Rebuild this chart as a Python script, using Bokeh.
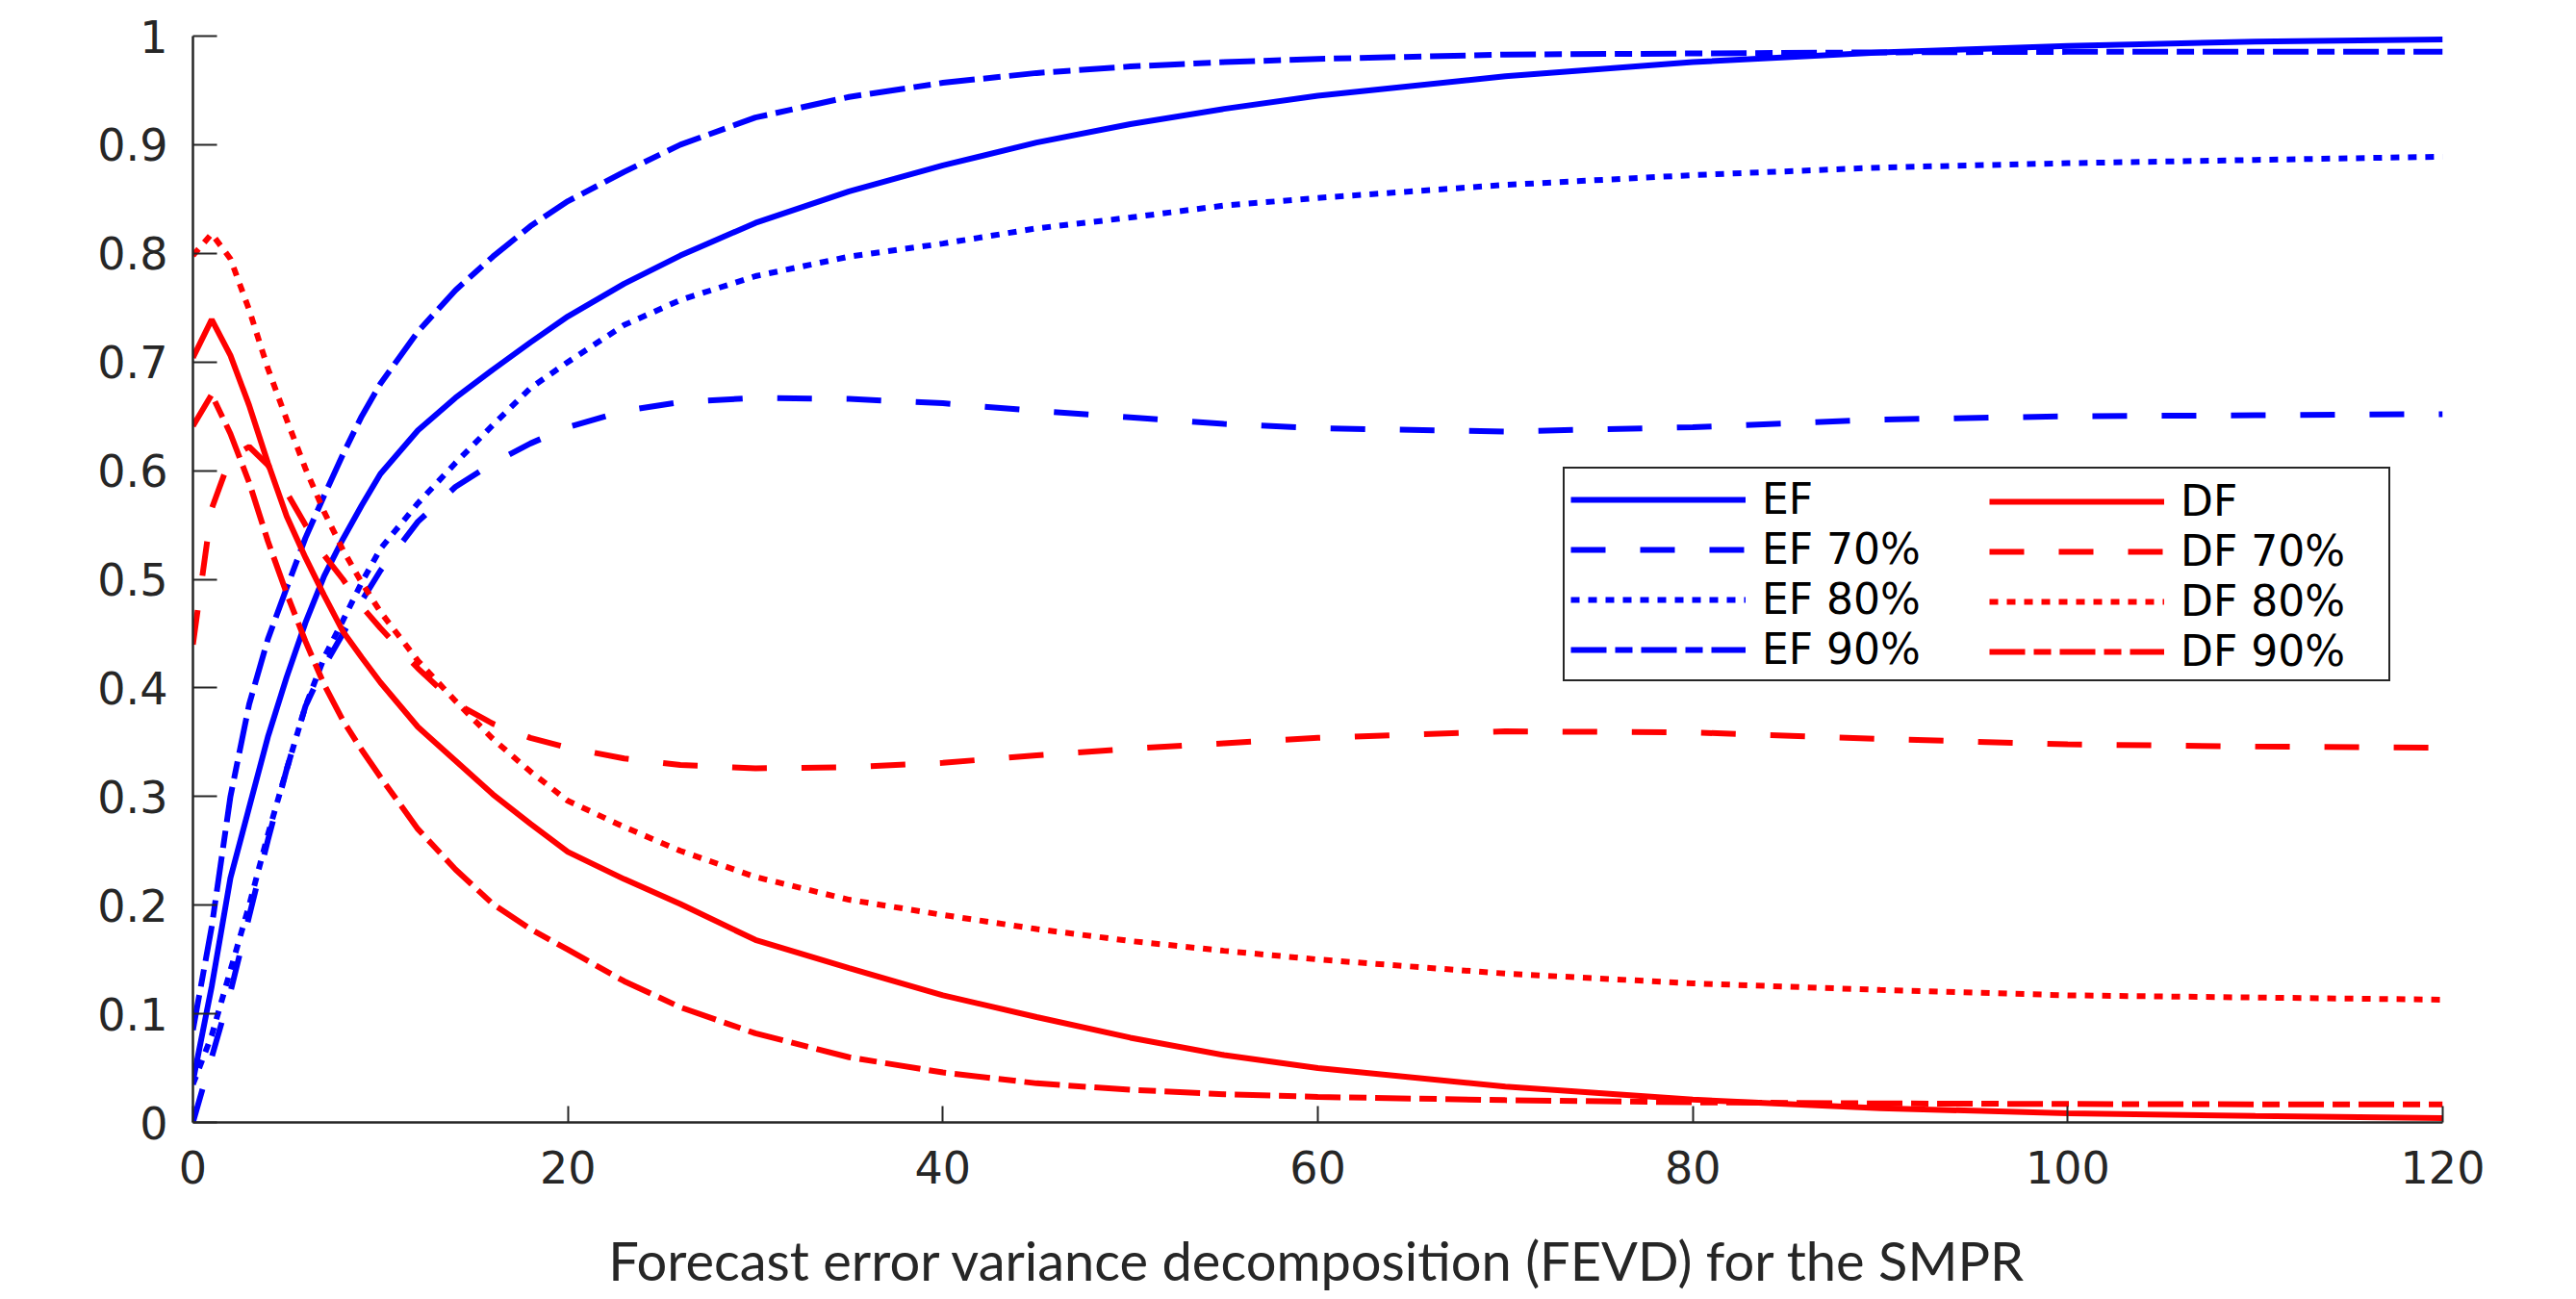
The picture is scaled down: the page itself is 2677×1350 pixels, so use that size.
from bokeh.plotting import figure
from bokeh.models import Legend, LegendItem, FixedTicker
from bokeh.embed import file_html
from bokeh.resources import INLINE

# horizon (x) values
horizon = [0, 1, 2, 3, 4, 5, 6, 7, 8, 9, 10, 12, 14, 16, 18, 20, 23, 26, 30, 35,
           40, 45, 50, 55, 60, 70, 80, 90, 100, 110, 120]

ef = [0.038, 0.125, 0.225, 0.290, 0.355, 0.410, 0.460, 0.503, 0.537, 0.568, 0.597,
      0.637, 0.667, 0.693, 0.718, 0.742, 0.772, 0.798, 0.828, 0.857, 0.881, 0.902,
      0.919, 0.933, 0.945, 0.963, 0.976, 0.985, 0.991, 0.995, 0.997]
ef70 = [0.000, 0.060, 0.120, 0.190, 0.260, 0.325, 0.383, 0.420, 0.450, 0.480, 0.508,
        0.553, 0.585, 0.607, 0.625, 0.640, 0.655, 0.663, 0.667, 0.666, 0.662, 0.655,
        0.649, 0.643, 0.639, 0.636, 0.640, 0.647, 0.650, 0.651, 0.652]
ef80 = [0.035, 0.080, 0.140, 0.200, 0.265, 0.325, 0.383, 0.428, 0.462, 0.497, 0.528,
        0.570, 0.607, 0.642, 0.676, 0.700, 0.734, 0.757, 0.779, 0.797, 0.809, 0.823,
        0.833, 0.844, 0.851, 0.863, 0.872, 0.879, 0.883, 0.886, 0.889]
ef90 = [0.085, 0.180, 0.300, 0.385, 0.445, 0.492, 0.538, 0.577, 0.615, 0.650, 0.680,
        0.728, 0.766, 0.797, 0.825, 0.848, 0.875, 0.900, 0.925, 0.944, 0.957, 0.966,
        0.972, 0.976, 0.979, 0.983, 0.984, 0.985, 0.9855, 0.9857, 0.9857]

df = [0.704, 0.739, 0.706, 0.660, 0.607, 0.558, 0.520, 0.485, 0.452, 0.428, 0.405,
      0.364, 0.333, 0.302, 0.275, 0.249, 0.224, 0.201, 0.168, 0.142, 0.117, 0.097,
      0.078, 0.062, 0.050, 0.033, 0.021, 0.013, 0.0085, 0.006, 0.004]
df70 = [0.440, 0.565, 0.612, 0.622, 0.605, 0.580, 0.550, 0.522, 0.500, 0.475, 0.455,
        0.418, 0.386, 0.367, 0.354, 0.345, 0.335, 0.329, 0.326, 0.327, 0.331, 0.338,
        0.344, 0.349, 0.354, 0.360, 0.359, 0.353, 0.348, 0.346, 0.345]
df80 = [0.798, 0.818, 0.795, 0.748, 0.694, 0.647, 0.602, 0.562, 0.527, 0.497, 0.470,
        0.425, 0.388, 0.353, 0.323, 0.296, 0.272, 0.250, 0.226, 0.205, 0.191, 0.178,
        0.167, 0.158, 0.150, 0.137, 0.128, 0.122, 0.117, 0.115, 0.113]
df90 = [0.641, 0.670, 0.634, 0.589, 0.535, 0.487, 0.443, 0.403, 0.370, 0.343, 0.318,
        0.270, 0.233, 0.201, 0.178, 0.159, 0.130, 0.106, 0.082, 0.060, 0.046, 0.036,
        0.030, 0.026, 0.0235, 0.0205, 0.0185, 0.0175, 0.017, 0.0167, 0.0165]

ef_labels = ["EF", "EF 70%", "EF 80%", "EF 90%"]
df_labels = ["DF", "DF 70%", "DF 80%", "DF 90%"]

x_ticks = [0, 20, 40, 60, 80, 100, 120]
y_ticks = [0, 0.1, 0.2, 0.3, 0.4, 0.5, 0.6, 0.7, 0.8, 0.9, 1]
y_tick_labels = ["0", "0.1", "0.2", "0.3", "0.4", "0.5", "0.6", "0.7", "0.8", "0.9", "1"]

x_label = "Forecast error variance decomposition (FEVD) for the SMPR"

AX = "#262626"
TICK_FONT = "DejaVu Sans"

p = figure(width=2668, height=1350, x_range=(0, 120), y_range=(0, 1),
           output_backend="svg", toolbar_location=None,
           min_border_left=200, min_border_right=130,
           min_border_top=37, min_border_bottom=184)
p.outline_line_color = None
p.grid.visible = False
p.background_fill_color = "white"
p.border_fill_color = "white"

styles = ["solid", "36 36", "9 9", "37 9 18 9"]
ef_series = [ef, ef70, ef80, ef90]
df_series = [df, df70, df80, df90]

ef_r = []
df_r = []
for ys, dash in zip(ef_series, styles):
    ef_r.append(p.line(horizon, ys, line_color="#0000FF", line_width=6, line_dash=dash))
for ys, dash in zip(df_series, styles):
    df_r.append(p.line(horizon, ys, line_color="#FF0000", line_width=6, line_dash=dash))

# axes
p.xaxis.ticker = FixedTicker(ticks=x_ticks)
p.yaxis.ticker = FixedTicker(ticks=y_ticks)
p.yaxis.major_label_overrides = {t: l for t, l in zip(y_ticks, y_tick_labels)}
for ax in (p.xaxis, p.yaxis):
    ax.axis_line_color = AX
    ax.axis_line_width = 2.5
    ax.major_tick_line_color = AX
    ax.major_tick_line_width = 2
    ax.major_tick_out = 0
    ax.minor_tick_line_color = None
    ax.major_label_text_font = TICK_FONT
    ax.major_label_text_font_size = "46px"
    ax.major_label_text_color = AX
p.yaxis.major_tick_in = 25
p.xaxis.major_tick_in = 17
p.yaxis.major_label_standoff = 26
p.xaxis.major_label_standoff = 29

p.xaxis.axis_label = x_label
p.xaxis.axis_label_text_font = "Lato"
p.xaxis.axis_label_text_font_style = "normal"
p.xaxis.axis_label_text_font_size = "56px"
p.xaxis.axis_label_text_color = AX
p.xaxis.axis_label_standoff = 43

# legends (two columns, the first one carries the frame)
common = dict(glyph_width=182, glyph_height=44, label_height=44,
              label_standoff=17, spacing=1, padding=6,
              label_text_font=TICK_FONT, label_text_font_size="44px",
              label_text_color="black", border_line_width=2)
leg1 = Legend(items=[LegendItem(label=l, renderers=[r]) for l, r in zip(ef_labels, ef_r)],
              location=(1424, 458), label_width=645,
              border_line_color=AX, border_line_alpha=1.0,
              background_fill_color="white", background_fill_alpha=1.0, **common)
leg2 = Legend(items=[LegendItem(label=l, renderers=[r]) for l, r in zip(df_labels, df_r)],
              location=(1861, 458), label_width=150,
              border_line_color=AX, border_line_alpha=0.0,
              background_fill_color="white", background_fill_alpha=0.0, **common)
p.add_layout(leg1, "center")
p.add_layout(leg2, "center")

open("out.html", "w").write(file_html(p, INLINE))
